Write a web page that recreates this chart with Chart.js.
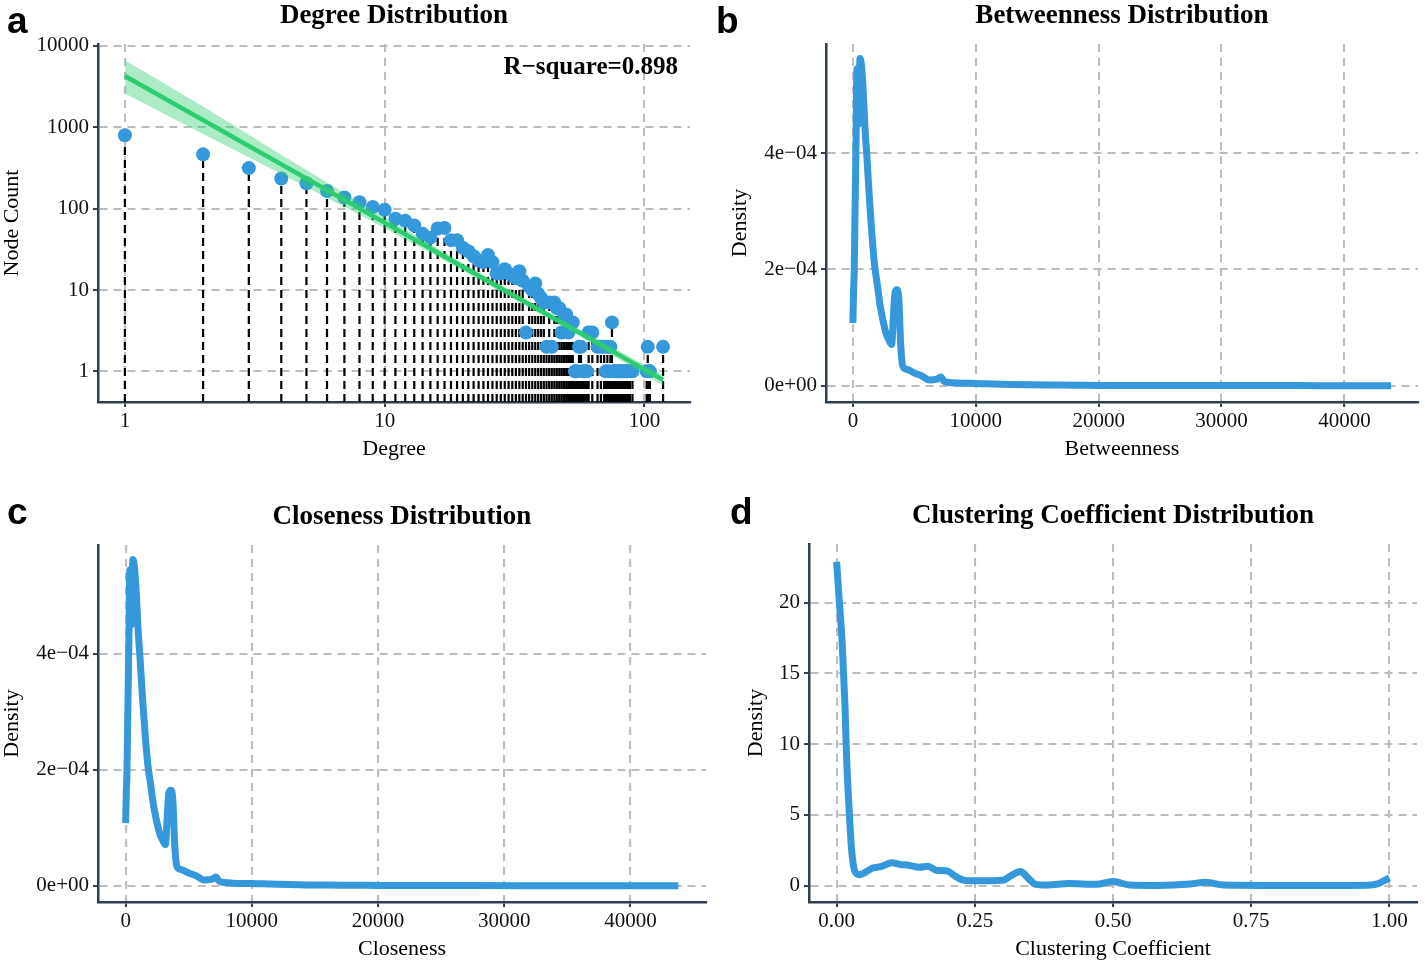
<!DOCTYPE html>
<html>
<head>
<meta charset="utf-8">
<title>Network distributions</title>
<script src="https://cdn.jsdelivr.net/npm/chart.js@4.4.1/dist/chart.umd.min.js"></script>
<style>
  html, body { margin: 0; padding: 0; background: #fff; }
  body { width: 1425px; height: 964px; position: relative; overflow: hidden; }
  canvas { position: absolute; }
</style>
</head>
<body>
<canvas id="grau" width="712" height="482" style="left:0;top:0"></canvas>
<canvas id="intermediacao" width="713" height="482" style="left:712px;top:0"></canvas>
<canvas id="proximidade" width="712" height="482" style="left:0;top:482px"></canvas>
<canvas id="agrupamento" width="713" height="482" style="left:712px;top:482px"></canvas>
<script>
// Dados
const degree = [1, 2, 3, 4, 5, 6, 7, 8, 9, 10, 11, 12, 13, 14, 15, 16, 17, 18, 19, 20,
  21, 22, 23, 24, 25, 26, 27, 28, 29, 30, 31, 32, 33, 34, 35, 36, 37, 38, 39, 40,
  41, 42, 43, 44, 45, 46, 47, 48, 49, 50, 51, 52, 53, 54, 55, 56, 57, 58, 59, 60,
  61, 63, 66, 68, 70, 71, 72, 73, 74, 75, 76, 77, 78, 79, 80, 81, 82, 83, 84, 85,
  86, 87, 88, 90, 102, 103, 104, 105, 118];
const nodeCount = [800, 465, 315, 235, 205, 165, 137, 120, 105, 97, 75, 71, 62, 49, 44, 57, 58, 41, 41, 33,
  30, 26, 23, 22, 27, 22, 16, 16, 18, 16, 15, 14, 17, 13, 3, 11, 10, 12, 9, 8,
  7, 2, 7, 2, 7, 6, 6, 3, 5, 5, 3, 4, 4, 1, 1, 2, 2, 1, 1, 1,
  3, 3, 2, 2, 2, 1, 2, 1, 2, 4, 1, 1, 1, 1, 1, 1, 1, 1, 1, 1,
  1, 1, 1, 1, 1, 2, 1, 1, 2];
const fitDegree = [1, 118];
const fitCount = [4266, 0.785];
const bandDegree = [1, 2, 4, 8, 16, 32, 64, 118];
const bandUpper = [6670, 1800, 460, 121, 32.3, 9.0, 2.62, 0.9];
const bandLower = [2600, 830, 266, 84, 25.6, 7.5, 2.13, 0.67];
const degreeTicks = [1, 10, 100];
const countTicks = [1, 10, 100, 1000, 10000];

const betweenness = [0, 50, 105, 180, 260, 330, 430, 580, 700, 830, 980, 1150, 1350, 1550, 1750,
  2000, 2200, 2450, 2700, 2950, 3150, 3300, 3420, 3580, 3750, 3880, 4050, 4400, 5000, 5600,
  6200, 6800, 7150, 7400, 7700, 8500, 10000, 11500, 13000, 14500, 16000, 18000, 20000, 24000,
  28000, 32000, 36000, 40000, 43800];
const betweennessDensity = [1.08e-4, 1.6e-4, 1.95e-4, 3.1e-4, 4.25e-4, 5.45e-4, 4.5e-4, 5.63e-4,
  5.5e-4, 5.1e-4, 4.45e-4, 3.9e-4, 3.2e-4, 2.6e-4, 2.1e-4, 1.72e-4, 1.4e-4, 1.12e-4, 0.9e-4,
  0.78e-4, 0.71e-4, 1.2e-4, 1.6e-4, 1.65e-4, 1.45e-4, 0.75e-4, 0.34e-4, 0.28e-4, 0.22e-4,
  0.17e-4, 0.1e-4, 0.11e-4, 0.15e-4, 0.08e-4, 0.06e-4, 0.045e-4, 0.04e-4, 0.03e-4, 0.02e-4,
  0.015e-4, 0.012e-4, 0.01e-4, 0.006e-4, 0.004e-4, 0.003e-4, 0.002e-4, 0.002e-4, 0.001e-4, 0.001e-4];

const closeness = [0, 50, 105, 180, 260, 330, 430, 580, 700, 830, 980, 1150, 1350, 1550, 1750,
  2000, 2200, 2450, 2700, 2950, 3150, 3300, 3420, 3580, 3750, 3880, 4050, 4400, 5000, 5600,
  6200, 6800, 7150, 7400, 7700, 8500, 10000, 11500, 13000, 14500, 16000, 18000, 20000, 24000,
  28000, 32000, 36000, 40000, 43800];
const closenessDensity = [1.08e-4, 1.6e-4, 1.95e-4, 3.1e-4, 4.25e-4, 5.45e-4, 4.5e-4, 5.63e-4,
  5.5e-4, 5.1e-4, 4.45e-4, 3.9e-4, 3.2e-4, 2.6e-4, 2.1e-4, 1.72e-4, 1.4e-4, 1.12e-4, 0.9e-4,
  0.78e-4, 0.71e-4, 1.2e-4, 1.6e-4, 1.65e-4, 1.45e-4, 0.75e-4, 0.34e-4, 0.28e-4, 0.22e-4,
  0.17e-4, 0.1e-4, 0.11e-4, 0.15e-4, 0.08e-4, 0.06e-4, 0.045e-4, 0.04e-4, 0.03e-4, 0.02e-4,
  0.015e-4, 0.012e-4, 0.01e-4, 0.006e-4, 0.004e-4, 0.003e-4, 0.002e-4, 0.002e-4, 0.001e-4, 0.001e-4];

const flowTicks = [0, 10000, 20000, 30000, 40000];
const densityTicks = [0, 2e-4, 4e-4];
const densityLabels = ['0e+00', '2e\u221204', '4e\u221204'];

const clustering = [0, 0.005, 0.01, 0.015, 0.018, 0.021, 0.024, 0.027, 0.031, 0.036, 0.042, 0.05,
  0.065, 0.08, 0.1, 0.115, 0.13, 0.15, 0.165, 0.18, 0.2, 0.212, 0.225, 0.24, 0.27, 0.3, 0.315,
  0.333, 0.345, 0.36, 0.38, 0.42, 0.47, 0.5, 0.53, 0.58, 0.64, 0.667, 0.7, 0.8, 0.9, 0.96, 0.98,
  0.99, 1.0];
const clusteringDensity = [22.9, 20.0, 17.2, 12.8, 9.1, 6.5, 4.4, 2.6, 1.3, 0.85, 0.78, 0.9,
  1.25, 1.35, 1.62, 1.5, 1.45, 1.3, 1.38, 1.1, 1.05, 0.75, 0.45, 0.35, 0.35, 0.38, 0.7,
  1.0, 0.6, 0.1, 0.05, 0.15, 0.1, 0.3, 0.05, 0.02, 0.12, 0.25, 0.05, 0.02, 0.02, 0.04, 0.15,
  0.35, 0.55];
const clusteringTicks = [0, 0.25, 0.5, 0.75, 1];
const clusteringLabels = ['0.00', '0.25', '0.50', '0.75', '1.00'];
const clusteringDensityTicks = [0, 5, 10, 15, 20];

// Estilo
const BLUE = '#3498db';
const GREEN = '#2ecc71';
const AXIS = '#2c3e50';
const GRID = '#bdbdbd';
const SERIF = '"Liberation Serif", "Times New Roman", serif';

function eixo(type, min, max, ticks, labels, size, isY) {
  return {
    type: type,
    min: min,
    max: max,
    bounds: 'data',
    afterBuildTicks: s => { s.ticks = ticks.map(v => ({ value: v })); },
    afterFit: s => { if (isY) s.width = size; else s.height = size; },
    grid: {
      color: GRID, lineWidth: 2.1, borderDash: [8, 6],
      tickColor: AXIS, tickWidth: 2, tickLength: 5, tickBorderDash: []
    },
    border: { color: AXIS, width: 2.5, dash: [8, 6] },
    ticks: {
      autoSkip: false, maxRotation: 0, minRotation: 0,
      padding: isY ? 4 : 2, color: '#111',
      font: { family: SERIF, size: 21 },
      callback: (v, i) => labels[i]
    }
  };
}

// textos desenhados por cima: letra, título, nomes dos eixos
function textos(cfg) {
  return {
    id: 'textos',
    afterDraw(chart) {
      const { ctx, chartArea: a } = chart;
      const cx = (a.left + a.right) / 2;
      ctx.save();
      ctx.fillStyle = '#000';
      ctx.font = 'bold 37px "Liberation Sans", Arial, sans-serif';
      ctx.textAlign = 'left';
      ctx.textBaseline = 'alphabetic';
      ctx.fillText(cfg.letra, cfg.letraX, cfg.letraY);

      ctx.font = 'bold 27px ' + SERIF;
      ctx.textAlign = 'center';
      ctx.textBaseline = 'middle';
      ctx.fillText(cfg.titulo, cx, a.top - 28);

      if (cfg.nota) {
        ctx.font = 'bold 25px ' + SERIF;
        ctx.textAlign = 'right';
        ctx.fillText(cfg.nota, a.right - 12, a.top + 24);
        ctx.textAlign = 'center';
      }

      ctx.font = '22px ' + SERIF;
      ctx.fillText(cfg.eixoX, cx, a.bottom + 47);
      ctx.translate(cfg.eixoYX, (a.top + a.bottom) / 2);
      ctx.rotate(-Math.PI / 2);
      ctx.fillText(cfg.eixoY, 0, 0);
      ctx.restore();
    }
  };
}

function opcoesBase(padding) {
  return {
    responsive: false,
    animation: false,
    events: [],
    layout: { padding: padding },
    plugins: { legend: { display: false }, tooltip: { enabled: false } }
  };
}

function pares(xs, ys) {
  return xs.map((x, i) => ({ x: x, y: ys[i] }));
}

function graficoGrau() {
  const countMin = 0.42;
  const hastes = [];
  degree.forEach((d, i) => {
    hastes.push({ x: d, y: countMin }, { x: d, y: nodeCount[i] }, { x: d, y: null });
  });

  const opts = opcoesBase({ left: 0, top: 44, right: 22, bottom: 0 });
  opts.scales = {
    x: eixo('logarithmic', 0.788, 149.8, degreeTicks, degreeTicks.map(String), 80, false),
    y: eixo('logarithmic', countMin, 10570, countTicks, countTicks.map(String), 98, true)
  };

  new Chart(document.getElementById('grau'), {
    type: 'scatter',
    data: {
      datasets: [
        { data: pares(fitDegree, fitCount), showLine: true, borderColor: GREEN, borderWidth: 4.5, pointRadius: 0 },
        { data: pares(bandDegree, bandUpper), showLine: true, borderColor: 'rgba(0,0,0,0)', borderWidth: 0,
          pointRadius: 0, backgroundColor: 'rgba(46,204,113,0.4)', fill: '+1' },
        { data: pares(bandDegree, bandLower), showLine: true, borderColor: 'rgba(0,0,0,0)', borderWidth: 0,
          pointRadius: 0, fill: false },
        { data: pares(degree, nodeCount), pointRadius: 7, pointBackgroundColor: BLUE, pointBorderWidth: 0 },
        { data: hastes, showLine: true, spanGaps: false, borderColor: '#000', borderWidth: 2.2,
          borderDash: [8, 5], pointRadius: 0 }
      ]
    },
    options: opts,
    plugins: [textos({
      letra: 'a', letraX: 7, letraY: 33, titulo: 'Degree Distribution',
      nota: 'R\u2212square=0.898', eixoX: 'Degree', eixoY: 'Node Count', eixoYX: 12
    })]
  });
}

function graficoDensidade(id, xs, ys, padding, yWidth, xHeight, escalas, texto) {
  const opts = opcoesBase(padding);
  opts.scales = {
    x: eixo('linear', escalas.xMin, escalas.xMax, escalas.xTicks, escalas.xLabels, xHeight, false),
    y: eixo('linear', escalas.yMin, escalas.yMax, escalas.yTicks, escalas.yLabels, yWidth, true)
  };
  new Chart(document.getElementById(id), {
    type: 'scatter',
    data: {
      datasets: [{
        data: pares(xs, ys), showLine: true, borderColor: BLUE, borderWidth: 7,
        borderCapStyle: 'butt', borderJoinStyle: 'round',
        cubicInterpolationMode: 'monotone', pointRadius: 0
      }]
    },
    options: opts,
    plugins: [textos(texto)]
  });
}

const escalaFluxo = {
  xMin: -2190, xMax: 45990, xTicks: flowTicks, xLabels: flowTicks.map(String),
  yMin: -0.28e-4, yMax: 5.88e-4, yTicks: densityTicks, yLabels: densityLabels
};

graficoGrau();

graficoDensidade('intermediacao', betweenness, betweennessDensity,
  { left: 0, top: 44, right: 7, bottom: 0 }, 114, 80, escalaFluxo,
  { letra: 'b', letraX: 4, letraY: 33, titulo: 'Betweenness Distribution',
    eixoX: 'Betweenness', eixoY: 'Density', eixoYX: 28 });

graficoDensidade('proximidade', closeness, closenessDensity,
  { left: 0, top: 63, right: 6, bottom: 0 }, 98, 62, escalaFluxo,
  { letra: 'c', letraX: 7, letraY: 524 - 482, titulo: 'Closeness Distribution',
    eixoX: 'Closeness', eixoY: 'Density', eixoYX: 12 });

graficoDensidade('agrupamento', clustering, clusteringDensity,
  { left: 0, top: 62, right: 8, bottom: 0 }, 97, 62,
  { xMin: -0.05, xMax: 1.05, xTicks: clusteringTicks, xLabels: clusteringLabels,
    yMin: -1.15, yMax: 24.15, yTicks: clusteringDensityTicks, yLabels: clusteringDensityTicks.map(String) },
  { letra: 'd', letraX: 18, letraY: 524 - 482, titulo: 'Clustering Coefficient Distribution',
    eixoX: 'Clustering Coefficient', eixoY: 'Density', eixoYX: 44 });
</script>
</body>
</html>
